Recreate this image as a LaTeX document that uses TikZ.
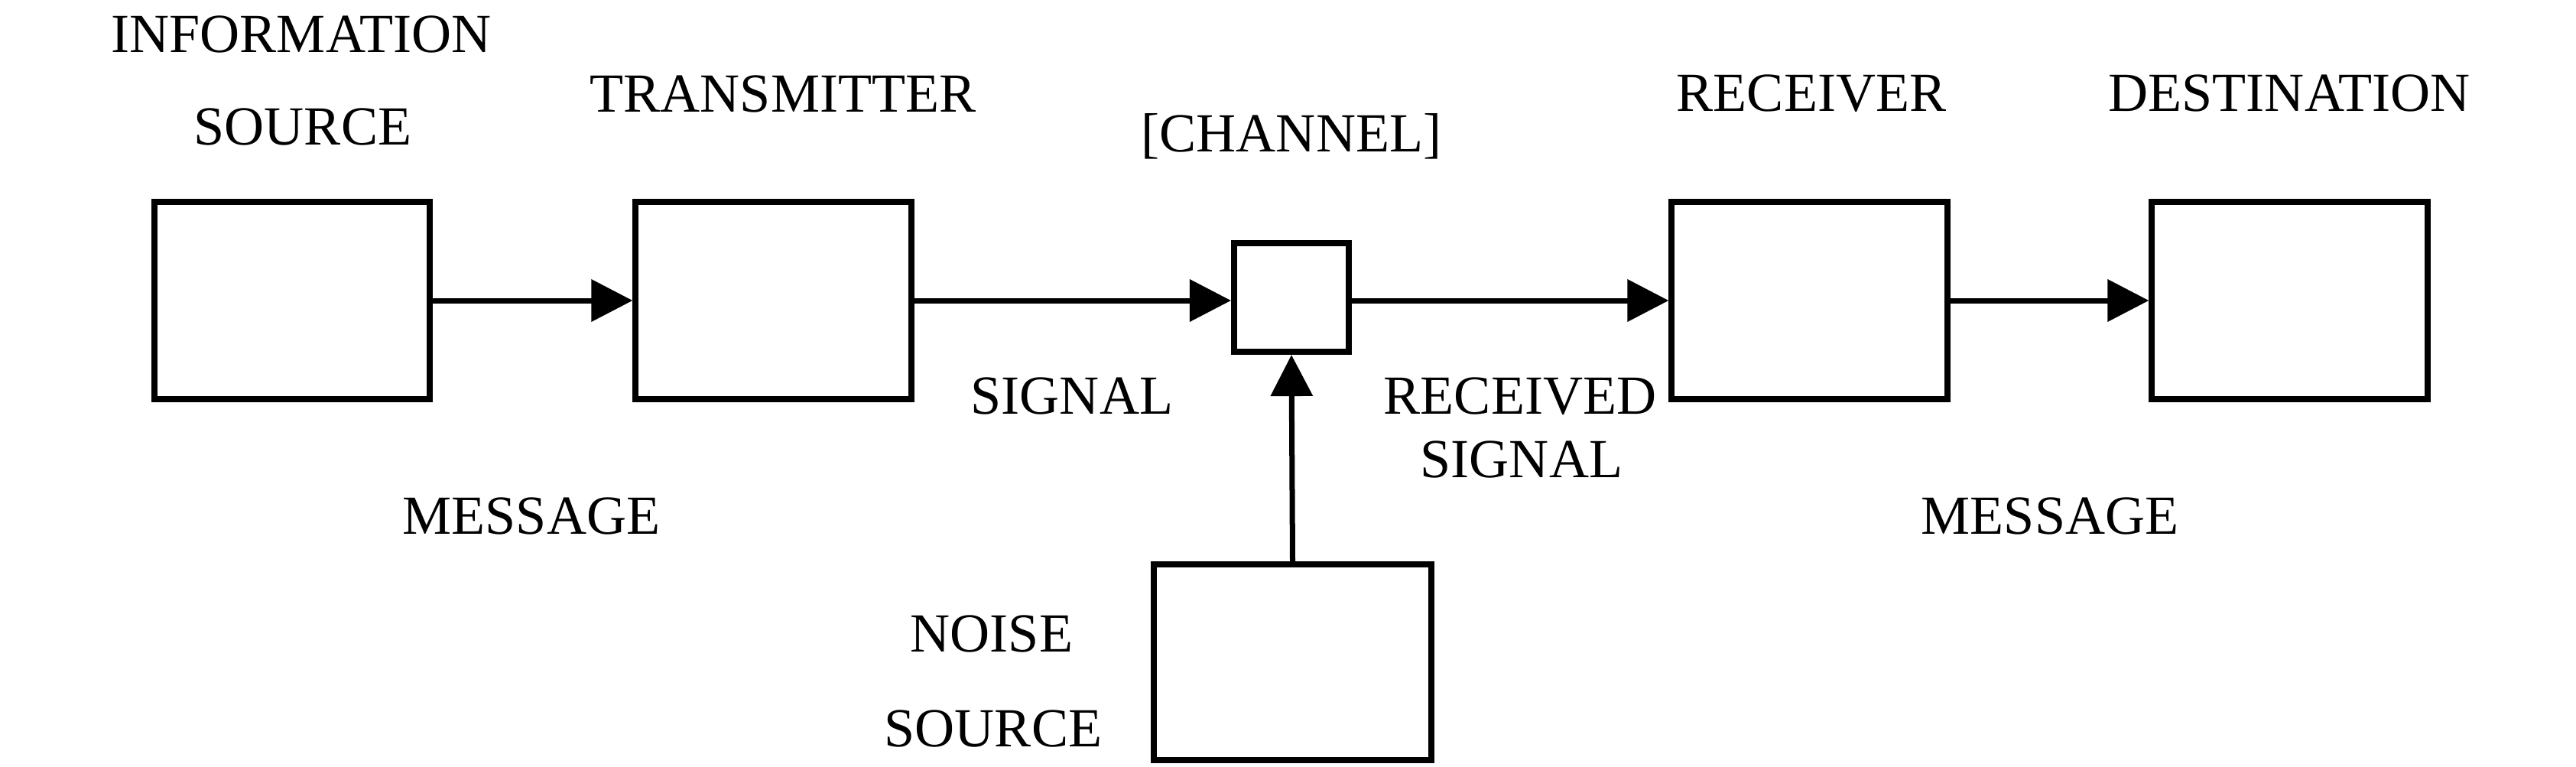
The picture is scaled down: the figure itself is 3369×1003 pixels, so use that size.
\documentclass[tikz,border=0pt]{standalone}
\usepackage{fontspec}
\setmainfont{Liberation Serif}
\usetikzlibrary{arrows.meta}
\begin{document}
\begin{tikzpicture}[x=0.01cm,y=-0.01cm,
  blk/.style={draw,line width=0.08cm,minimum width=3.6cm,minimum height=2.58cm,inner sep=0pt},
  arr/.style={line width=0.07cm,-{Triangle[length=0.54cm,width=0.54cm]}},
  lbl/.style={anchor=base,inner sep=0pt,font=\fontsize{20.5}{24}\selectfont}]
\useasboundingbox (0,0) rectangle (3369,1003);
% boxes
\node[blk] (src) at (382,393) {};
\node[blk] (tx) at (1011.5,393) {};
\node[blk,minimum width=1.5cm,minimum height=1.42cm] (ch) at (1689,389) {};
\node[blk] (rx) at (2366.5,393) {};
\node[blk] (dst) at (2994.5,393) {};
\node[blk,minimum width=3.63cm,minimum height=2.56cm] (noise) at (1690.5,866) {};
% connectors
\draw[arr] (src.east) -- (tx.west);
\draw[arr] (tx.east) -- (ch.west |- tx.east);
\draw[arr] (ch.east |- rx.west) -- (rx.west);
\draw[arr] (rx.east) -- (dst.west);
\draw[arr] (noise.north) -- (ch.south);
% labels
\node[lbl] (t1) at (394,68) {INFORMATION};
\node[lbl] (t2) at (396,189) {SOURCE};
\node[lbl] (t3) at (1024,146) {TRANSMITTER};
\node[lbl] (t4) at (1689,198) {[CHANNEL]};
\node[lbl] (t5) at (2369,145) {RECEIVER};
\node[lbl] (t6) at (2994,145) {DESTINATION};
\node[lbl] (t7) at (1402,541) {SIGNAL};
\node[lbl] (t8) at (1988,541) {RECEIVED};
\node[lbl] (t9) at (1990,624) {SIGNAL};
\node[lbl] (t10) at (695,698) {MESSAGE};
\node[lbl] (t11) at (2681,698) {MESSAGE};
\node[lbl] (t12) at (1297,852) {NOISE};
\node[lbl] (t13) at (1299,976) {SOURCE};
\end{tikzpicture}
\end{document}
